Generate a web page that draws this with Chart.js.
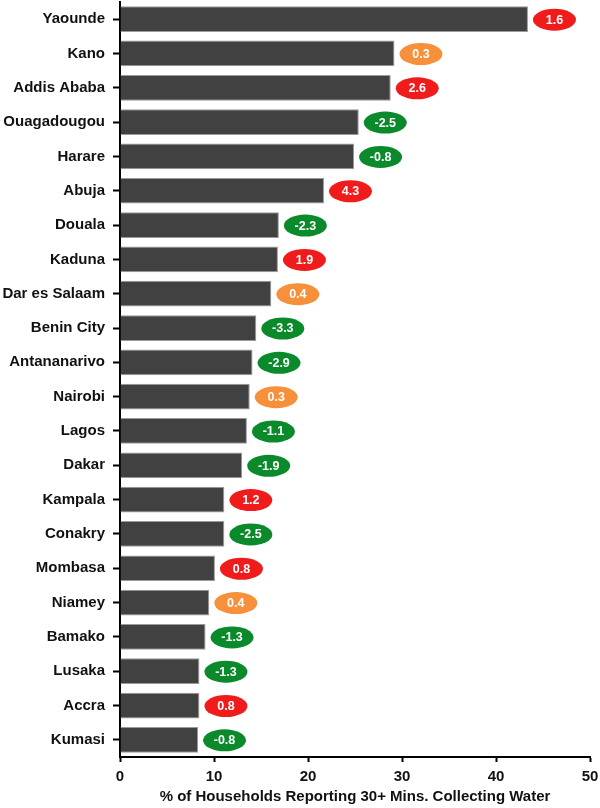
<!DOCTYPE html>
<html>
<head>
<meta charset="utf-8">
<script src="https://cdn.jsdelivr.net/npm/chart.js@4"></script>
<style>
html,body{margin:0;padding:0;background:#fff;}
#wrap{width:600px;height:808px;}
</style>
</head>
<body>
<div id="wrap"><canvas id="c" width="600" height="808"></canvas></div>
<script>
const cities = ['Yaounde','Kano','Addis Ababa','Ouagadougou','Harare','Abuja','Douala','Kaduna','Dar es Salaam','Benin City','Antananarivo','Nairobi','Lagos','Dakar','Kampala','Conakry','Mombasa','Niamey','Bamako','Lusaka','Accra','Kumasi'];
const pctHouseholds = [43.4, 29.2, 28.8, 25.4, 24.9, 21.7, 16.9, 16.8, 16.1, 14.5, 14.1, 13.8, 13.5, 13.0, 11.1, 11.1, 10.1, 9.5, 9.1, 8.45, 8.45, 8.3];
const changes = [1.6, 0.3, 2.6, -2.5, -0.8, 4.3, -2.3, 1.9, 0.4, -3.3, -2.9, 0.3, -1.1, -1.9, 1.2, -2.5, 0.8, 0.4, -1.3, -1.3, 0.8, -0.8];
const xTicks = [0, 10, 20, 30, 40, 50];

function badgeColor(v){
  if (v < 0) return '#0b8a2c';
  if (v < 0.5) return '#f7903a';
  return '#f01c1c';
}

const FONT = '"Liberation Sans", Arial, Helvetica, sans-serif';

const badgePlugin = {
  id: 'badges',
  afterDatasetsDraw(chart){
    const ctx = chart.ctx;
    const meta = chart.getDatasetMeta(0);
    ctx.save();
    meta.data.forEach((el, i) => {
      const v = changes[i];
      const cx = el.x + 26.5;
      const cy = el.y + 0.5;
      ctx.beginPath();
      ctx.ellipse(cx, cy, 21.5, 11, 0, 0, Math.PI * 2);
      ctx.fillStyle = badgeColor(v);
      ctx.fill();
      ctx.fillStyle = '#ffffff';
      ctx.font = 'bold 12.5px ' + FONT;
      ctx.textAlign = 'center';
      ctx.textBaseline = 'middle';
      ctx.fillText(v.toFixed(1), cx, cy + 0.5);
    });
    ctx.restore();
  }
};

new Chart(document.getElementById('c'), {
  type: 'bar',
  data: {
    labels: cities,
    datasets: [{
      data: pctHouseholds,
      backgroundColor: '#414141',
      borderColor: '#9a9a9a',
      borderWidth: 1,
      barPercentage: 0.75,
      categoryPercentage: 1.0
    }]
  },
  options: {
    indexAxis: 'y',
    responsive: false,
    animation: false,
    layout: { padding: { top: 2, right: 10, left: 0, bottom: 0 } },
    plugins: { legend: { display: false }, tooltip: { enabled: false } },
    scales: {
      x: {
        min: 0, max: 50,
        afterBuildTicks(scale){ scale.ticks = xTicks.map(v => ({ value: v })); },
        afterFit(scale){ scale.height = 51; scale.paddingLeft = 0; scale.paddingRight = 0; },
        ticks: { color: '#111', font: { family: FONT, size: 15, weight: 'bold' }, padding: 6, maxRotation: 0 },
        grid: { drawOnChartArea: false, drawTicks: true, tickLength: 5, tickColor: '#000', tickWidth: 2 },
        border: { display: true, color: '#000', width: 2 },
        title: { display: true, text: '% of Households Reporting 30+ Mins. Collecting Water', color: '#111', font: { family: FONT, size: 15, weight: 'bold' }, padding: { top: 1, bottom: 2 } }
      },
      y: {
        afterFit(scale){ scale.width = 120; scale.paddingTop = 0; scale.paddingBottom = 0; },
        ticks: { color: '#111', font: { family: FONT, size: 15, weight: 'bold' }, padding: 8, autoSkip: false },
        grid: { offset: false, drawOnChartArea: false, drawTicks: true, tickLength: 7, tickColor: '#000', tickWidth: 2 },
        border: { display: true, color: '#000', width: 2 }
      }
    }
  },
  plugins: [badgePlugin]
});
</script>
</body>
</html>
